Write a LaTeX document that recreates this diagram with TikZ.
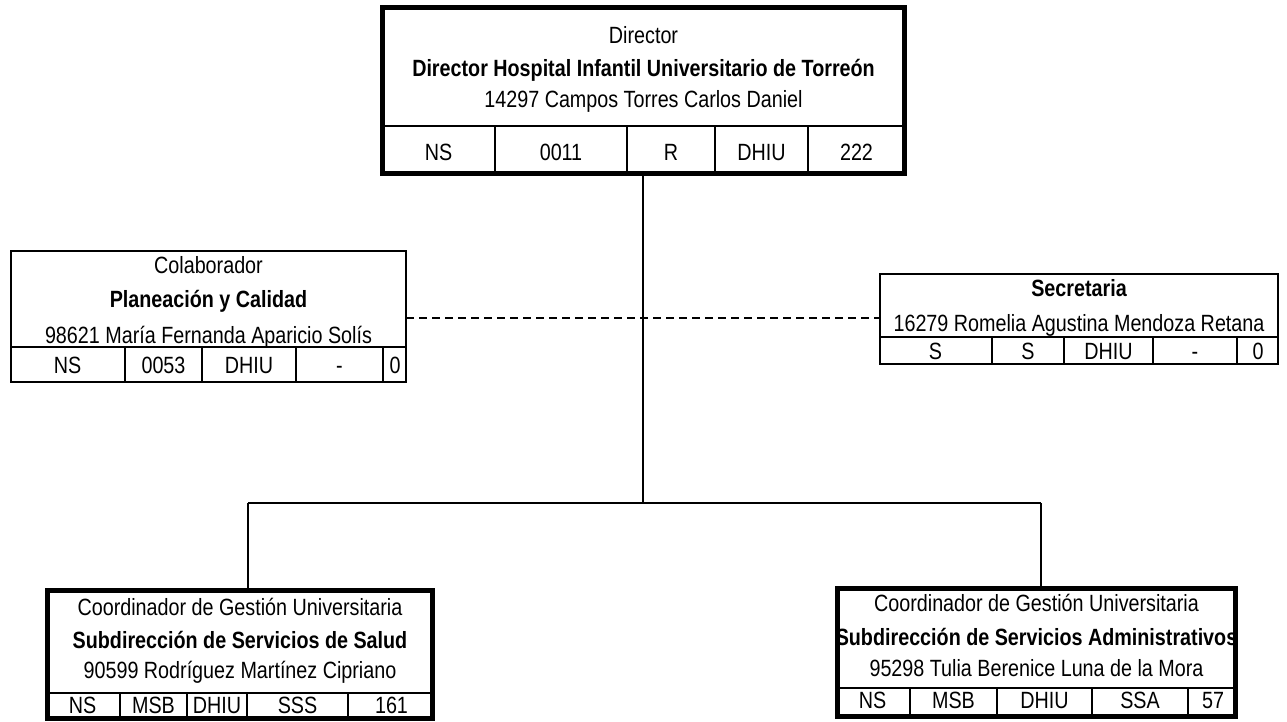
\documentclass[tikz,border=0pt]{standalone}
\usepackage{fontspec}
\setmainfont{Liberation Sans}
\newfontfamily\nar[FakeStretch=0.84]{Liberation Sans}
\tikzset{
  orgbox/.style={draw, rectangle, inner sep=0pt, outer sep=0pt, line width=2pt},
  bigbox/.style={orgbox, line width=5pt},
  rule/.style={line width=2pt},
  txt/.style={inner sep=0pt, anchor=base, font=\nar\fontsize{23.5}{28}\selectfont},
  btxt/.style={inner sep=0pt, anchor=base, font=\nar\bfseries\fontsize{23.5}{28}\selectfont},
  link/.style={line width=2pt},
  dashlink/.style={line width=2pt, dash pattern=on 8pt off 5pt}
}
\begin{document}
\begin{tikzpicture}[x=1pt,y=-1pt]
\useasboundingbox (0,0) rectangle (1287,721);
% ---------- Director ----------
\node[bigbox, minimum width=522pt, minimum height=166pt] (dir) at (643.5,90.5) {};
\draw[rule] (382.5,126) -- (904.5,126);
\foreach \x in {495,627,715,808} \draw[rule] (\x,126) -- (\x,173.5);
\node[txt]  (dirt1) at (643.5,43) {Director};
\node[btxt] (dirt2) at (643.5,76) {Director Hospital Infantil Universitario de Torreón};
\node[txt]  (dirt3) at (643.5,107) {14297 Campos Torres Carlos Daniel};
\node[txt] (dirc1) at (438.5,160) {NS};
\node[txt] (dirc2) at (561,160) {0011};
\node[txt] (dirc3) at (671,160) {R};
\node[txt] (dirc4) at (761.5,160) {DHIU};
\node[txt] (dirc5) at (856.5,160) {222};
% ---------- Colaborador ----------
\node[orgbox, minimum width=395pt, minimum height=131pt] (col) at (208.5,316.5) {};
\draw[rule] (11,347) -- (406,347);
\foreach \x in {125,202,296,383} \draw[rule] (\x,347) -- (\x,382);
\node[txt]  (colt1) at (208.5,273) {Colaborador};
\node[btxt] (colt2) at (208.5,307) {Planeación y Calidad};
\node[txt]  (colt3) at (208.5,343) {98621 María Fernanda Aparicio Solís};
\node[txt] (colc1) at (67.5,373) {NS};
\node[txt] (colc2) at (163.5,373) {0053};
\node[txt] (colc3) at (249,373) {DHIU};
\node[txt] (colc4) at (339.5,373) {-};
\node[txt] (colc5) at (395,373) {0};
% ---------- Secretaria ----------
\node[orgbox, minimum width=398pt, minimum height=90pt] (sec) at (1079,319) {};
\draw[rule] (880,337) -- (1278,337);
\foreach \x in {992,1064,1153,1237} \draw[rule] (\x,337) -- (\x,364);
\node[btxt] (sect1) at (1079,296) {Secretaria};
\node[txt]  (sect2) at (1079,331) {16279 Romelia Agustina Mendoza Retana};
\node[txt] (secc1) at (935.5,359) {S};
\node[txt] (secc2) at (1028,359) {S};
\node[txt] (secc3) at (1108.5,359) {DHIU};
\node[txt] (secc4) at (1195,359) {-};
\node[txt] (secc5) at (1258,359) {0};
% ---------- Subdireccion Salud ----------
\node[bigbox, minimum width=385pt, minimum height=128pt] (sal) at (240,654) {};
\draw[rule] (47.5,693) -- (432.5,693);
\foreach \x in {120,187,247,348} \draw[rule] (\x,693) -- (\x,718);
\node[txt]  (salt1) at (240,615) {Coordinador de Gestión Universitaria};
\node[btxt] (salt2) at (240,648) {Subdirección de Servicios de Salud};
\node[txt]  (salt3) at (240,678) {90599 Rodríguez Martínez Cipriano};
\node[txt] (salc1) at (82.5,713.5) {NS};
\node[txt] (salc2) at (153.5,713.5) {MSB};
\node[txt] (salc3) at (217,713.5) {DHIU};
\node[txt] (salc4) at (297.5,713.5) {SSS};
\node[txt] (salc5) at (391.5,713.5) {161};
% ---------- Subdireccion Administrativos ----------
\node[bigbox, minimum width=398pt, minimum height=128pt] (adm) at (1036.5,652) {};
\draw[rule] (837.5,688) -- (1235.5,688);
\foreach \x in {910,997,1092,1188} \draw[rule] (\x,688) -- (\x,713.5);
\node[txt]  (admt1) at (1036.5,611) {Coordinador de Gestión Universitaria};
\node[btxt] (admt2) at (1036.5,645) {Subdirección de Servicios Administrativos};
\node[txt]  (admt3) at (1036.5,676) {95298 Tulia Berenice Luna de la Mora};
\node[txt] (admc1) at (872.5,708.5) {NS};
\node[txt] (admc2) at (953.5,708.5) {MSB};
\node[txt] (admc3) at (1044.5,708.5) {DHIU};
\node[txt] (admc4) at (1140,708.5) {SSA};
\node[txt] (admc5) at (1213,708.5) {57};
% ---------- connectors ----------
\coordinate (hub) at (643,503);
\coordinate (hl) at (248,503);
\coordinate (hr) at (1041,503);
\draw[link] (dir.south -| hub) -- (hub);
\draw[link] (hl) -- (hr);
\draw[link] (hl) -- (hl |- sal.north);
\draw[link] (hr) -- (hr |- adm.north);
\draw[dashlink] (col.east |- 0,318) -- (sec.west |- 0,318);
\end{tikzpicture}
\end{document}
